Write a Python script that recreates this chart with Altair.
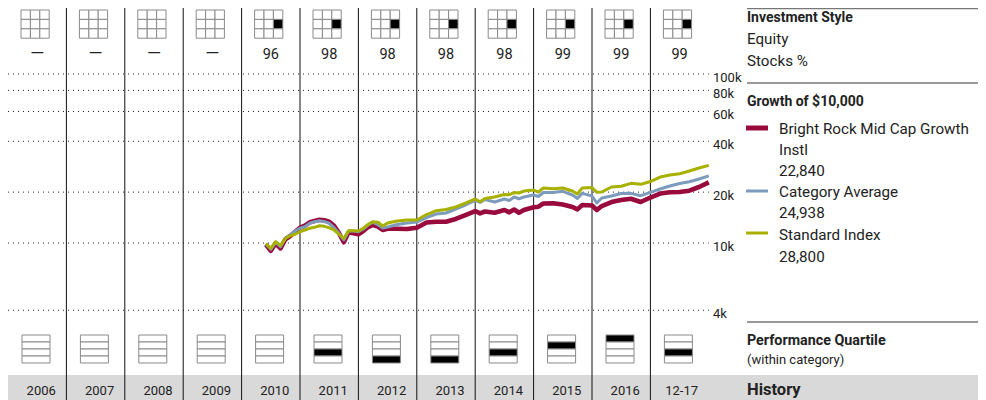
import altair as alt
import pandas as pd

# ---- data ----
YEAR_LABELS = ["2006","2007","2008","2009","2010","2011","2012","2013","2014","2015","2016","12-17"]
STOCK_PCT = ["—","—","—","—","96","98","98","98","98","99","99","99"]
HAS_STYLE = [0,0,0,0,1,1,1,1,1,1,1,1]
QUARTILE = [0,0,0,0,0,3,4,4,3,2,1,3]   # 0 = none, 1 = top
GRID_VALUES = [100000,80000,60000,40000,20000,10000,4000]
GRID_LABELS = ["100k","80k","60k","40k","20k","10k","4k"]
MONTHS = list(range(53,79)) + [80,82,84,86,88,90,92,94,96,97,98,100,102,103,104,105,106,108,109,110,112,114,116,117,118,120,121,122,124,126,128,130,132,134,136,138,140,142,144]
FUND = [9800,9000,9960,9300,10520,11000,11660,12320,12650,13260,13490,13730,13620,13370,12650,11460,10100,11570,11410,11260,11780,12430,12780,12520,11940,12150,
        12150,12100,12320,13220,13370,13370,13870,14640,15460,14980,15360,15110,15670,15190,15780,15110,15670,16260,16400,17130,17170,16890,16330,15810,16780,16660,15670,16550,17480,17960,18280,17480,18580,19620,19950,20030,20390,21440,22840]
CATEGORY = [9865,9180,10100,9510,10660,11150,11780,12220,12480,13080,13370,13550,13370,13080,12320,11410,10420,11780,11780,11660,12100,12780,13260,12830,12270,12430,
            12860,13130,13310,14150,14840,15050,15890,16780,17890,17400,18080,17480,18210,17840,18710,18280,18710,19230,18840,19890,19890,20220,19230,18360,19670,18970,17240,18460,18970,19620,19670,19050,19950,20860,21730,22490,23050,23910,24938]
INDEX = [9900,9300,10180,9640,10660,11040,11260,11660,11940,12220,12380,12650,12550,12320,11940,11300,10660,11820,11820,11780,12220,12890,13370,13260,12600,13130,
         13490,13680,13680,14740,15530,15780,16330,17240,18210,17550,18360,18710,19360,19310,19890,19760,20300,20580,20030,21150,20950,21150,20300,19490,21150,21300,19950,20030,21440,21670,22550,22240,23110,24570,25250,25700,26660,27770,28800]

# ---- layout ----
FONT = "Roboto"
W, H = 970, 392
PX_PER_YEAR = 58.4
DECADE_PX = 169
TOP_VALUE = 10 ** (5 + 66 / DECADE_PX)
BOTTOM_VALUE = 10 ** (5 - (H - 66) / DECADE_PX)
TEXT = "#222222"

x_scale = alt.Scale(domain=[2006, 2006 + W / PX_PER_YEAR], range=[0, W], nice=False, zero=False)
y_log = alt.Scale(type="log", domain=[BOTTOM_VALUE, TOP_VALUE], range=[H, 0], nice=False, zero=False)
y_px = alt.Scale(domain=[0, H], range=[0, H], nice=False, zero=False)
X = lambda f: alt.X(f, type="quantitative", scale=x_scale, axis=None)
Y_PX = lambda f: alt.Y(f, type="quantitative", scale=y_px, axis=None)
one = alt.Data(values=[{}])


def label(text, x, y, size, bold=False, color=TEXT):
    return alt.Chart(one).mark_text(text=text, font=FONT, fontSize=size, fontWeight="bold" if bold else "normal",
                                    align="left", baseline="alphabetic", color=color
                                    ).encode(x=alt.value(x - 8), y=alt.value(y - 8))


def hrule(y, color="#777777", width=1.5):
    return alt.Chart(one).mark_rule(color=color, strokeWidth=width).encode(
        x=alt.value(739), x2=alt.value(W), y=alt.value(y - 8))


def swatch(y, color, width):
    return alt.Chart(one).mark_rule(color=color, strokeWidth=width).encode(
        x=alt.value(738), x2=alt.value(760), y=alt.value(y - 8))


years = [2006 + i for i in range(len(YEAR_LABELS))]
layers = []

# grey history band
layers.append(alt.Chart(one).mark_rect(color="#d9d9d9").encode(
    x=alt.value(0), x2=alt.value(W), y=alt.value(367), y2=alt.value(H)))

# dotted grid, from the year scale
grid = pd.DataFrame({"v": GRID_VALUES, "t": GRID_LABELS, "a": 2006.0, "b": 2018.0})
layers.append(alt.Chart(grid).mark_rule(color="#222222", strokeWidth=1, strokeDash=[1, 4]).encode(
    x=X("a"), x2="b", y=alt.Y("v", type="quantitative", scale=y_log, axis=None)))

# year dividers
div = pd.DataFrame({"x": years[1:]})
layers.append(alt.Chart(div).mark_rule(color="#111111", strokeWidth=1).encode(
    x=X("x"), y=alt.value(0), y2=alt.value(H)))

# style boxes (3 x 3)
BOX_LEFT, BOX_TOP_STYLE, CELL = 13.0 / PX_PER_YEAR, 2.0, 9.4
cells = []
for yr, has in zip(years, HAS_STYLE):
    for r in range(3):
        for c in range(3):
            x0 = yr + BOX_LEFT + c * CELL / PX_PER_YEAR
            cells.append({"x": x0, "x2": x0 + CELL / PX_PER_YEAR,
                          "y": BOX_TOP_STYLE + r * CELL, "y2": BOX_TOP_STYLE + (r + 1) * CELL,
                          "on": bool(has and r == 1 and c == 2)})
cells = pd.DataFrame(cells)
layers.append(alt.Chart(cells).mark_rect(stroke="#8a8a8a", strokeWidth=1).encode(
    x=X("x"), x2="x2", y=Y_PX("y"), y2="y2",
    fill=alt.Fill("on:N", scale=alt.Scale(domain=[False, True], range=["#ffffff", "#000000"]), legend=None)))

# quartile boxes (1 x 4)
Q_LEFT, Q_TOP, Q_W, Q_H = 14.0 / PX_PER_YEAR, 327.0, 28.0 / PX_PER_YEAR, 7.0
qcells = []
for yr, q in zip(years, QUARTILE):
    for r in range(4):
        qcells.append({"x": yr + Q_LEFT, "x2": yr + Q_LEFT + Q_W, "y": Q_TOP + r * Q_H, "y2": Q_TOP + (r + 1) * Q_H,
                       "on": bool(q == r + 1)})
qcells = pd.DataFrame(qcells)
layers.append(alt.Chart(qcells).mark_rect(stroke="#8a8a8a", strokeWidth=1).encode(
    x=X("x"), x2="x2", y=Y_PX("y"), y2="y2",
    fill=alt.Fill("on:N", scale=alt.Scale(domain=[False, True], range=["#ffffff", "#000000"]), legend=None)))

# lines
def series(values, color, width):
    d = pd.DataFrame({"t": [2006 + m / 12 for m in MONTHS], "v": values})
    return alt.Chart(d).mark_line(color=color, strokeWidth=width, strokeJoin="round").encode(
        x=X("t"), y=alt.Y("v", type="quantitative", scale=y_log, axis=None))


layers += [series(FUND, "#990a3d", 4.6), series(CATEGORY, "#7d9bbd", 3), series(INDEX, "#a8b000", 3)]

# grid labels
grid_txt = pd.DataFrame({"v": GRID_VALUES, "t": GRID_LABELS})
layers.append(alt.Chart(grid_txt).mark_text(font=FONT, fontSize=13, align="left", baseline="middle", dy=3.5, color=TEXT).encode(
    x=alt.value(705), y=alt.Y("v", type="quantitative", scale=y_log, axis=None), text="t"))

# stock % row
score = pd.DataFrame({"x": [y + 0.5 for y in years], "t": STOCK_PCT})
layers.append(alt.Chart(score[score.t != "—"]).mark_text(font=FONT, fontSize=14.5, align="center", baseline="alphabetic", color=TEXT).encode(
    x=X("x"), y=alt.value(51), text="t"))
layers.append(alt.Chart(score[score.t == "—"]).mark_text(font=FONT, fontSize=18, align="center", baseline="alphabetic", color=TEXT).encode(
    x=X("x"), y=alt.value(51), text="t"))

# year row
yrs = pd.DataFrame({"x": [y + 0.5 + (4 if t != "12-17" else 2) / PX_PER_YEAR for y, t in zip(years, YEAR_LABELS)], "t": YEAR_LABELS})
layers.append(alt.Chart(yrs).mark_text(font=FONT, fontSize=13, align="center", baseline="alphabetic", color=TEXT).encode(
    x=X("x"), y=alt.value(387), text="t"))

# right panel
LEG = 15.2
layers += [
    hrule(8.5), hrule(83), hrule(322),
    label("Investment Style", 747, 22, 14, True),
    label("Equity", 747, 44, LEG),
    label("Stocks %", 747, 66, LEG),
    label("Growth of  $10,000", 747, 106, 14, True),
    swatch(128, "#990a3d", 5), swatch(191, "#7d9bbd", 3), swatch(233, "#a8b000", 3),
    label("Bright Rock Mid Cap Growth", 779, 134, LEG),
    label("Instl", 779, 155, LEG),
    label("22,840", 779, 176, LEG),
    label("Category Average", 779, 197, LEG),
    label("24,938", 779, 218, LEG),
    label("Standard Index", 779, 240, LEG),
    label("28,800", 779, 262, LEG),
    label("Performance Quartile", 747, 345, 14.3, True),
    label("(within category)", 747, 364, 13),
    label("History", 747, 395, 16.5, True),
]

chart = alt.layer(*layers).resolve_scale(y="independent", fill="independent").properties(
    width=W, height=H, padding=0, autosize=alt.AutoSizeParams(type="none"),
).configure_view(stroke=None)

chart.save("out.html", embed_options={"renderer": "svg", "actions": False})
